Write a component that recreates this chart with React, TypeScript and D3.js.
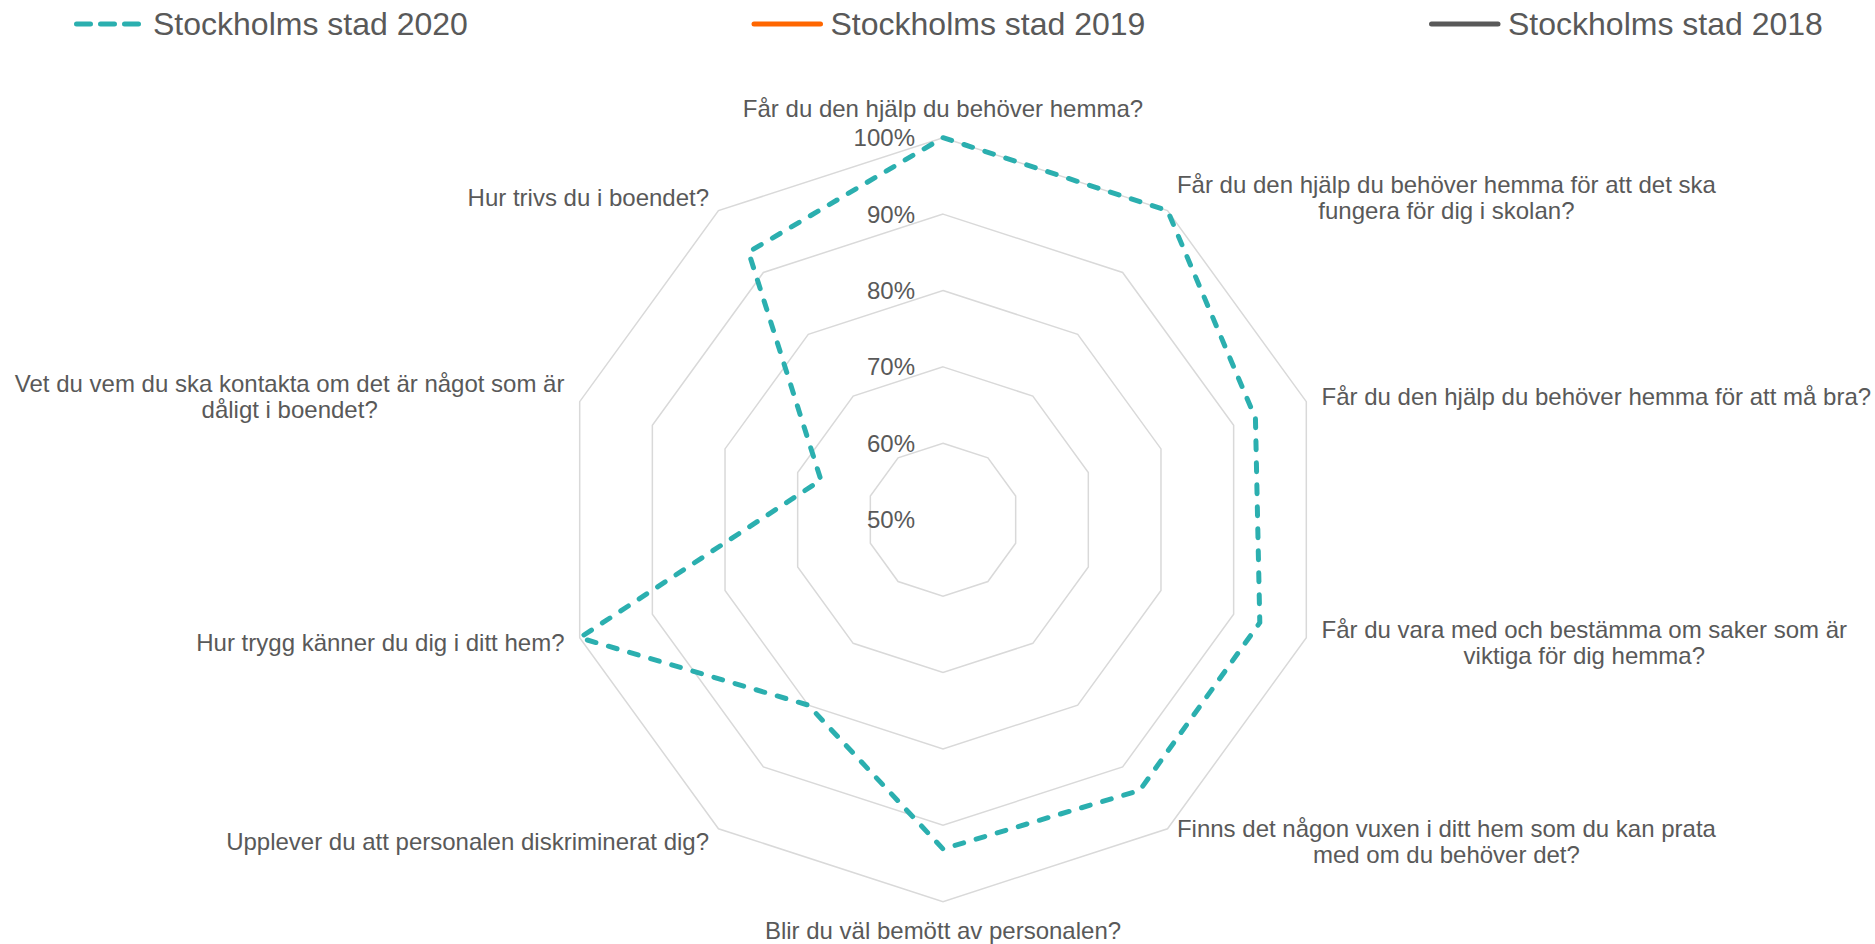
import React from 'react';
import * as d3 from 'd3';

const categories: string[][] = [
  ["Får du den hjälp du behöver hemma?"],
  ["Får du den hjälp du behöver hemma för att det ska", "fungera för dig i skolan?"],
  ["Får du den hjälp du behöver hemma för att må bra?"],
  ["Får du vara med och bestämma om saker som är", "viktiga för dig hemma?"],
  ["Finns det någon vuxen i ditt hem som du kan prata", "med om du behöver det?"],
  ["Blir du väl bemött av personalen?"],
  ["Upplever du att personalen diskriminerat dig?"],
  ["Hur trygg känner du dig i ditt hem?"],
  ["Vet du vem du ska kontakta om det är något som är", "dåligt i boendet?"],
  ["Hur trivs du i boendet?"],
];

const values2020 = [100, 100, 93, 93.6, 93.8, 93.1, 80, 100, 66.8, 93.3];

const seriesNames = ["Stockholms stad 2020", "Stockholms stad 2019", "Stockholms stad 2018"];
const seriesColors = ["#2BAFAF", "#FF6600", "#595959"];

const tickValues = [50, 60, 70, 80, 90, 100];
const tickLabels = ["50%", "60%", "70%", "80%", "90%", "100%"];

const W = 1875;
const H = 944;
const CX = 943;
const CY = 519.7;
const R = 382;
const FONT = "'Liberation Sans', Arial, sans-serif";
const TEXT = "#595959";
const GRID = "#D9D9D9";

let ctx: CanvasRenderingContext2D | null = null;
function measure(s: string, size: number) {
  if (!ctx) {
    const c = document.createElement('canvas');
    ctx = c.getContext('2d');
  }
  if (!ctx) return s.length * size * 0.5;
  ctx.font = `${size}px ${FONT}`;
  return ctx.measureText(s).width;
}

export default function App() {
  const n = categories.length;
  const r = d3.scaleLinear().domain([50, 100]).range([0, R]);
  const angle = (i: number) => (i * 2 * Math.PI) / n;

  const ringLine = d3
    .lineRadial<number>()
    .angle((_, i) => angle(i))
    .curve(d3.curveLinearClosed);

  const rings = tickValues.filter((t) => t > 50).map((t) => ({
    t,
    d: ringLine.radius(() => r(t))(d3.range(n).map(() => t)) as string,
  }));

  const seriesPath = d3
    .lineRadial<number>()
    .angle((_, i) => angle(i))
    .radius((v) => r(v))
    .curve(d3.curveLinearClosed)(values2020) as string;

  const fs = 24;
  const lh = 26.5;
  const pad = 16;

  const labels = categories.map((lines, i) => {
    const a = angle(i);
    const s = Math.sin(a);
    const c = -Math.cos(a);
    const ax = CX + (R + pad) * s;
    let ay = CY + (R + pad) * c;
    const w = Math.max(...lines.map((l) => measure(l, fs)));
    let x0: number;
    if (s > 0.1) x0 = ax;
    else if (s < -0.1) x0 = ax - w;
    else {
      x0 = ax - w / 2;
      ay += c * (lines.length * lh) / 2;
    }
    return { lines, cx: x0 + w / 2, cy: ay };
  });

  const legendX = [74, 751.5, 1429];
  const legendY = 24;

  return (
    <svg
      width={W}
      height={H}
      style={{ position: 'absolute', left: 0, top: 0, background: '#fff' }}
      fontFamily={FONT}
    >
      <rect x={0} y={0} width={W} height={H} fill="#fff" />
      <g transform={`translate(${CX},${CY})`}>
        {rings.map((rg) => (
          <path key={rg.t} d={rg.d} fill="none" stroke={GRID} strokeWidth={1.5} />
        ))}
        <path
          d={seriesPath}
          fill="none"
          stroke={seriesColors[0]}
          strokeWidth={5}
          strokeDasharray="9 13"
          strokeLinecap="round"
          strokeLinejoin="round"
        />
      </g>
      {tickValues.map((t, i) => (
        <text
          key={t}
          x={CX - 28}
          y={CY - r(t)}
          textAnchor="end"
          dominantBaseline="central"
          fontSize={fs}
          fill={TEXT}
        >
          {tickLabels[i]}
        </text>
      ))}
      {labels.map((lb, i) => (
        <g key={i}>
          {lb.lines.map((l, j) => (
            <text
              key={j}
              x={lb.cx}
              y={lb.cy + (j - (lb.lines.length - 1) / 2) * lh}
              textAnchor="middle"
              dominantBaseline="central"
              fontSize={fs}
              fill={TEXT}
            >
              {l}
            </text>
          ))}
        </g>
      ))}
      {seriesNames.map((name, i) => (
        <g key={name}>
          {i === 0 ? (
            <line
              x1={legendX[i] + 2.5}
              x2={legendX[i] + 64.5}
              y1={legendY}
              y2={legendY}
              stroke={seriesColors[i]}
              strokeWidth={5}
              strokeDasharray="14 10"
              strokeLinecap="round"
            />
          ) : (
            <line
              x1={legendX[i] + 2.5}
              x2={legendX[i] + 69}
              y1={legendY}
              y2={legendY}
              stroke={seriesColors[i]}
              strokeWidth={5}
              strokeLinecap="round"
            />
          )}
          <text
            x={legendX[i] + 79}
            y={legendY}
            dominantBaseline="central"
            fontSize={32}
            fill={TEXT}
          >
            {name}
          </text>
        </g>
      ))}
    </svg>
  );
}
